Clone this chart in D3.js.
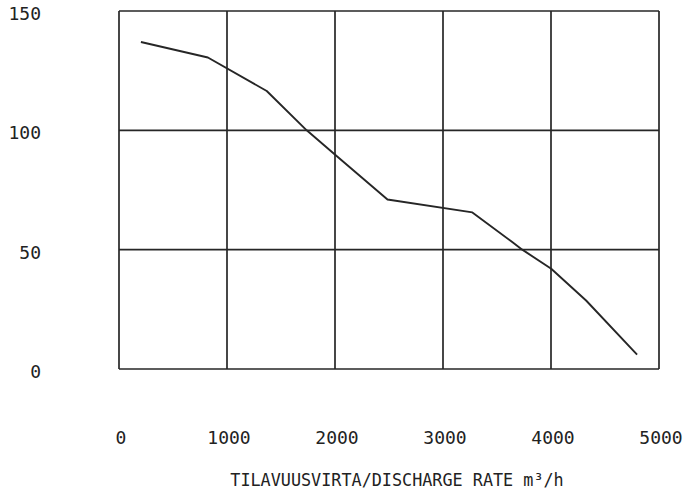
<!DOCTYPE html>
<html>
<head>
<meta charset="utf-8">
<script src="https://cdn.jsdelivr.net/npm/d3@7"></script>
<style>
  html, body { margin: 0; padding: 0; background: #ffffff; }
  svg { display: block; }
  text { font-family: "DejaVu Sans Mono", "Liberation Mono", monospace; fill: #222; }
</style>
</head>
<body>
<svg id="chart" width="687" height="490"></svg>
<script>
// Discharge rate (m³/h) vs. value
const flowRate = [203, 823, 1368, 1738, 1996, 2486, 3272, 3641, 3734, 4002, 4325, 4797];
const values   = [137, 130.5, 116.5, 100, 90, 71, 65.6, 53.2, 50, 42, 28.7, 6];
const xTicks = [0, 1000, 2000, 3000, 4000, 5000];
const yTicks = [0, 50, 100, 150];
const xTitle = "TILAVUUSVIRTA/DISCHARGE RATE m³/h";

const svg = d3.select("#chart");
const x = d3.scaleLinear().domain([0, 5000]).range([119, 659]);
const y = d3.scaleLinear().domain([0, 150]).range([369, 11]);

const ink = "#262626";

// grid lines
svg.append("g").selectAll("line.v").data(xTicks).join("line")
  .attr("x1", d => x(d)).attr("x2", d => x(d))
  .attr("y1", y(0)).attr("y2", y(150))
  .attr("stroke", ink).attr("stroke-width", 1.7);
svg.append("g").selectAll("line.h").data(yTicks).join("line")
  .attr("x1", x(0)).attr("x2", x(5000))
  .attr("y1", d => y(d)).attr("y2", d => y(d))
  .attr("stroke", ink).attr("stroke-width", 1.7);

// y labels
svg.append("g").selectAll("text").data(yTicks).join("text")
  .attr("x", 41).attr("y", d => y(d) + 9)
  .attr("text-anchor", "end")
  .attr("font-size", 18)
  .text(d => d);

// x labels
svg.append("g").selectAll("text").data(xTicks).join("text")
  .attr("x", d => x(d) + 2).attr("y", 444)
  .attr("text-anchor", "middle")
  .attr("font-size", 18)
  .text(d => d);

// x title
svg.append("text")
  .attr("x", 397).attr("y", 486)
  .attr("text-anchor", "middle")
  .attr("font-size", 16.8)
  .text(xTitle);

// curve
const line = d3.line().x((d, i) => x(flowRate[i])).y(d => y(d));
svg.append("path")
  .datum(values)
  .attr("d", line)
  .attr("fill", "none")
  .attr("stroke", ink)
  .attr("stroke-width", 1.9)
  .attr("stroke-linejoin", "round");
</script>
</body>
</html>
